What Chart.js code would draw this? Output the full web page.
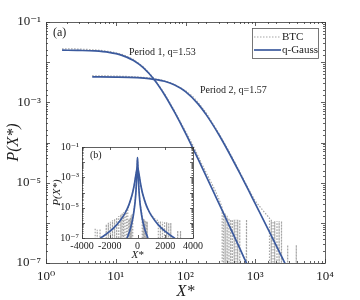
<!DOCTYPE html>
<html>
<head>
<meta charset="utf-8">
<script src="https://cdn.jsdelivr.net/npm/chart.js@4.4.0/dist/chart.umd.min.js"></script>
<style>
  html, body { margin: 0; padding: 0; background: #fff; }
  #wrap { position: relative; width: 360px; height: 300px; }
  #mainChart { position: absolute; left: 0; top: 0; }
  #insetChart { position: absolute; left: 48px; top: 138px; }
</style>
</head>
<body>
<div id="wrap">
  <canvas id="mainChart" width="360" height="300"></canvas>
  <canvas id="insetChart" width="160" height="125"></canvas>
</div>
<script>
// empty histogram bin (falls below the axis)
const EMPTY = 1e-30;

// main panel (a): log-log, |X*| vs P(X*)
const mainQ1X = [1.7, 3, 5, 8, 12, 18, 25, 35, 50, 70, 100, 150, 200, 300, 400, 500, 600, 750];
const mainQ1Y = [0.0199, 0.0196, 0.0190, 0.0175, 0.0150, 0.0110, 0.0072, 0.00381, 0.00155, 5.6e-4, 1.71e-4, 4.0e-5, 1.4e-5, 3.1e-6, 1.05e-6, 4.6e-7, 2.3e-7, 9.9e-8];
const mainQ2X = [4.6, 10, 20, 30, 50, 70, 100, 150, 200, 300, 400, 600, 800, 1000, 1500, 2000, 2700];
const mainQ2Y = [4.29e-3, 4.25e-3, 4.12e-3, 3.91e-3, 3.34e-3, 2.70e-3, 1.85e-3, 9.3e-4, 4.8e-4, 1.58e-4, 6.5e-5, 1.72e-5, 6.5e-6, 3.0e-6, 7.4e-7, 2.7e-7, 9.4e-8];

const mainBtc1X = [1.7, 2.5, 4, 6, 9, 13, 18, 25, 35, 50, 70, 100, 130, 170, 210, 250, 290, 320,
  335, 340, 350, 358, 370, 378, 395, 405, 420, 430, 445, 455, 470, 480, 500, 510, 530, 540, 560, 570, 600, 610, 750, 760];
const mainBtc1Y = [0.0215, 0.0214, 0.0207, 0.0197, 0.0179, 0.0152, 0.0116, 0.0076, 0.0040, 0.00165, 6.0e-4, 1.9e-4, 8.0e-5, 3.0e-5, 1.45e-5, 8.0e-6, 4.6e-6, 3.0e-6,
  2.4e-6, EMPTY, 2.0e-6, EMPTY, 1.7e-6, EMPTY, 1.5e-6, EMPTY, 1.3e-6, EMPTY, 1.2e-6, EMPTY, 1.2e-6, EMPTY, 1.2e-6, EMPTY, 1.2e-6, EMPTY, 1.2e-6, EMPTY, 1.2e-6, EMPTY, 1.2e-6, EMPTY];
const mainBtc2X = [4.6, 7, 10, 15, 20, 30, 45, 60, 80, 100, 130, 160, 200, 250, 300, 400, 500, 600, 700, 800, 900, 1000, 1150, 1300, 1450, 1600,
  1620, 1700, 1720, 1800, 1820, 1900, 1930, 2050, 2080, 2200, 2230, 2380, 2410, 2920, 2950, 3880, 3920];
const mainBtc2Y = [4.6e-3, 4.55e-3, 4.5e-3, 4.4e-3, 4.3e-3, 4.05e-3, 3.6e-3, 3.1e-3, 2.45e-3, 1.95e-3, 1.35e-3, 8.8e-4, 5.3e-4, 2.85e-4, 1.7e-4, 7.0e-5, 3.4e-5, 1.85e-5, 1.1e-5, 7.0e-6, 4.8e-6, 3.5e-6, 2.6e-6, 2.0e-6, 1.6e-6, 1.3e-6,
  EMPTY, 1.2e-6, EMPTY, 1.1e-6, EMPTY, 1.1e-6, EMPTY, 1.1e-6, EMPTY, 1.1e-6, EMPTY, 1.1e-6, EMPTY, 2.8e-7, EMPTY, 2.8e-7, EMPTY];

// inset panel (b): linear X*, log P
const insetQ1X = [-750, -600, -500, -400, -300, -200, -150, -100, -50, -25, 0, 25, 50, 100, 150, 200, 300, 400, 500, 600, 750];
const insetQ1Y = [9.9e-8, 2.3e-7, 4.6e-7, 1.05e-6, 3.1e-6, 1.4e-5, 4.0e-5, 1.71e-4, 1.55e-3, 7.2e-3, 0.02, 7.2e-3, 1.55e-3, 1.71e-4, 4.0e-5, 1.4e-5, 3.1e-6, 1.05e-6, 4.6e-7, 2.3e-7, 9.9e-8];
const insetQ2X = [-2700, -2000, -1500, -1000, -800, -600, -400, -300, -200, -100, -50, 0, 50, 100, 200, 300, 400, 600, 800, 1000, 1500, 2000, 2700];
const insetQ2Y = [9.4e-8, 2.7e-7, 7.4e-7, 3.0e-6, 6.5e-6, 1.72e-5, 6.5e-5, 1.58e-4, 4.8e-4, 1.85e-3, 3.34e-3, 4.3e-3, 3.34e-3, 1.85e-3, 4.8e-4, 1.58e-4, 6.5e-5, 1.72e-5, 6.5e-6, 3.0e-6, 7.4e-7, 2.7e-7, 9.4e-8];

const insetBtc1X = [-650, -630, -580, -560, -520, -500, -460, -440, -400, -380, -340, -300, -250, -200, -150, -100, -50, 0, 50, 100, 150, 200, 250, 300,
  340, 360, 400, 420, 470, 490, 540, 560, 610, 630, 700, 720];
const insetBtc1Y = [1.5e-6, EMPTY, 1.8e-6, EMPTY, 2.2e-6, EMPTY, 3e-6, EMPTY, 3.5e-6, EMPTY, 3e-6, 4e-6, 8e-6, 1.8e-5, 4.5e-5, 1.9e-4, 1.6e-3, 0.021, 1.6e-3, 1.9e-4, 4.5e-5, 1.6e-5, 8e-6, 4.5e-6,
  2.4e-6, EMPTY, 2e-6, EMPTY, 1.7e-6, EMPTY, 1.5e-6, EMPTY, 1.3e-6, EMPTY, 1.2e-6, EMPTY];
const insetBtc2X = [-3050, -3000, -2900, -2850, -2700, -2650, -2250, -2200, -2100, -2050, -1950, -1900, -1800, -1750, -1650, -1600, -1500, -1450, -1350, -1300, -1200, -1150, -1100, -1050, -1000, -950,
  -900, -850, -800, -750, -700, -600, -500, -400, -300, -200, -100, 0, 100, 200, 300, 400, 500, 600, 700, 800, 900, 1000, 1100, 1200, 1300, 1400, 1500,
  1550, 1650, 1700, 1800, 1850, 1950, 2000, 2100, 2150, 2250, 2300, 2400, 2450, 2900, 2950, 3100, 3150];
const insetBtc2Y = [4e-7, EMPTY, 3.5e-7, EMPTY, 4e-7, EMPTY, 8e-7, EMPTY, 1e-6, EMPTY, 1.2e-6, EMPTY, 1.5e-6, EMPTY, 1.8e-6, EMPTY, 2.2e-6, EMPTY, 2.8e-6, EMPTY, 3.5e-6, EMPTY, 4.5e-6, EMPTY, 5e-6, EMPTY,
  5e-6, 6e-6, 5e-6, EMPTY, 8e-6, 1.5e-5, 3e-5, 6.5e-5, 1.6e-4, 4.8e-4, 1.9e-3, 4.5e-3, 1.9e-3, 4.8e-4, 1.6e-4, 6.5e-5, 3e-5, 1.6e-5, 9e-6, 6e-6, 4.5e-6, 3.4e-6, 2.6e-6, 2e-6, 1.7e-6, 1.5e-6, 1.4e-6,
  EMPTY, 1.3e-6, EMPTY, 1.2e-6, EMPTY, 1.2e-6, EMPTY, 1.1e-6, EMPTY, 1e-6, EMPTY, 1e-6, EMPTY, 3e-7, EMPTY, 3e-7, EMPTY];

// tick labels
const mainXLabelExps = [0, 1, 2, 3, 4];
const mainYLabelExps = [-1, -3, -5, -7];
const insetYLabelExps = [-1, -3, -5, -7];
const insetXTickValues = [-4000, -2000, 0, 2000, 4000];
const insetXTickLabels = ['-4000', '-2000', '0', '2000', '4000'];

const SERIF = "'Liberation Serif', 'DejaVu Serif', serif";
const BLUE = '#3b5a9e';
const GREY = '#a6a6a6';
const INK = '#1a1a1a';

const SUP = { '-': '⁻', '0': '⁰', '1': '¹', '2': '²', '3': '³', '4': '⁴', '5': '⁵', '6': '⁶', '7': '⁷', '8': '⁸', '9': '⁹' };

function isDecade(v) {
    const l = Math.log10(v);
    return Math.abs(l - Math.round(l)) < 1e-6;
}

function pow10Label(v, exps) {
    if (!isDecade(v)) return '';
    const e = Math.round(Math.log10(v));
    if (!exps.includes(e)) return '';
    return '10' + String(e).split('').map(c => SUP[c]).join('');
}

function pts(xs, ys) {
    return xs.map((x, i) => ({ x: x, y: ys[i] }));
}

function fitSet(label, xs, ys) {
    return { label: label, data: pts(xs, ys), borderColor: BLUE, borderWidth: 1.7, cubicInterpolationMode: 'monotone', pointRadius: 0 };
}

function btcSet(label, xs, ys) {
    return { label: label, data: pts(xs, ys), borderColor: GREY, borderWidth: 1.2, borderDash: [1.5, 1.5], pointRadius: 0 };
}

// box around the axes with inward ticks on all four sides
const framePlugin = {
    id: 'frame',
    beforeDatasetsDraw(chart, args, opts) {
        if (!opts.fill) return;
        const a = chart.chartArea;
        chart.ctx.save();
        chart.ctx.fillStyle = opts.fill;
        chart.ctx.fillRect(a.left, a.top, a.right - a.left, a.bottom - a.top);
        chart.ctx.restore();
    },
    afterDatasetsDraw(chart, args, opts) {
        const { ctx, chartArea: a, scales } = chart;
        ctx.save();
        ctx.strokeStyle = '#3a3a3a';
        ctx.lineWidth = 0.8;
        ctx.beginPath();
        scales.x.ticks.forEach(t => {
            const px = Math.round(scales.x.getPixelForValue(t.value)) + 0.5;
            const len = (scales.x.type !== 'logarithmic' || isDecade(t.value)) ? opts.major : opts.minor;
            ctx.moveTo(px, a.bottom); ctx.lineTo(px, a.bottom - len);
            ctx.moveTo(px, a.top); ctx.lineTo(px, a.top + len);
        });
        scales.y.ticks.forEach(t => {
            const py = Math.round(scales.y.getPixelForValue(t.value)) + 0.5;
            const len = (scales.y.type !== 'logarithmic' || isDecade(t.value)) ? opts.major : opts.minor;
            ctx.moveTo(a.left, py); ctx.lineTo(a.left + len, py);
            ctx.moveTo(a.right, py); ctx.lineTo(a.right - len, py);
        });
        ctx.stroke();
        ctx.strokeRect(Math.round(a.left) + 0.5, Math.round(a.top) + 0.5, Math.round(a.right - a.left), Math.round(a.bottom - a.top));
        ctx.restore();
    }
};

// free text and the boxed legend
const notesPlugin = {
    id: 'notes',
    afterDraw(chart, args, opts) {
        const { ctx, chartArea: a } = chart;
        ctx.save();
        ctx.fillStyle = INK;
        ctx.textBaseline = 'middle';
        ctx.textAlign = 'left';
        (opts.texts || []).forEach(t => {
            ctx.font = t.font;
            ctx.fillText(t.text, a.left + t.dx, a.top + t.dy);
        });
        const lg = opts.legend;
        if (lg) {
            ctx.fillStyle = '#fff';
            ctx.fillRect(lg.x, lg.y, lg.w, lg.h);
            ctx.strokeStyle = '#555';
            ctx.lineWidth = 0.8;
            ctx.strokeRect(lg.x + 0.5, lg.y + 0.5, lg.w, lg.h);
            lg.items.forEach((idx, k) => {
                const ds = chart.data.datasets[idx];
                const y = lg.y + lg.first + k * lg.step;
                ctx.beginPath();
                ctx.setLineDash(ds.borderDash || []);
                ctx.strokeStyle = ds.borderColor;
                ctx.lineWidth = ds.borderWidth;
                ctx.moveTo(lg.x + 2, y);
                ctx.lineTo(lg.x + 29, y);
                ctx.stroke();
                ctx.setLineDash([]);
                ctx.fillStyle = INK;
                ctx.font = lg.font;
                ctx.fillText(ds.label, lg.x + 30, y);
            });
        }
        ctx.restore();
    }
};

Chart.register(framePlugin, notesPlugin);

new Chart(document.getElementById('mainChart'), {
    type: 'line',
    data: {
        datasets: [
            fitSet('q-Gauss', mainQ1X, mainQ1Y),
            fitSet('q-Gauss', mainQ2X, mainQ2Y),
            btcSet('BTC', mainBtc1X, mainBtc1Y),
            btcSet('BTC', mainBtc2X, mainBtc2Y)
        ]
    },
    options: {
        responsive: false,
        animation: false,
        layout: { padding: { top: 22, right: 35, left: 0, bottom: 0 } },
        plugins: {
            legend: { display: false },
            tooltip: { enabled: false },
            frame: { major: 4, minor: 2 },
            notes: {
                texts: [
                    { text: '(a)', dx: 7, dy: 11, font: `12px ${SERIF}` },
                    { text: 'Period 1, q=1.53', dx: 83, dy: 30, font: `10px ${SERIF}` },
                    { text: 'Period 2, q=1.57', dx: 154, dy: 68, font: `10px ${SERIF}` }
                ],
                legend: { x: 252, y: 28, w: 66, h: 30, first: 9, step: 13, items: [2, 0], font: `11px ${SERIF}` }
            }
        },
        scales: {
            x: {
                type: 'logarithmic',
                min: 1,
                max: 1e4,
                grid: { display: false, drawTicks: false },
                border: { display: false },
                ticks: {
                    autoSkip: false,
                    maxRotation: 0,
                    padding: 6,
                    color: INK,
                    font: { family: SERIF, size: 13 },
                    callback: v => pow10Label(v, mainXLabelExps)
                },
                title: { display: true, text: 'X*', color: INK, padding: 0, font: { family: SERIF, size: 16, style: 'italic', lineHeight: 1 } },
                afterFit: s => { s.height = 37; }
            },
            y: {
                type: 'logarithmic',
                min: 1e-7,
                max: 1e-1,
                grid: { display: false, drawTicks: false },
                border: { display: false },
                ticks: {
                    autoSkip: false,
                    padding: 5,
                    color: INK,
                    font: { family: SERIF, size: 13 },
                    callback: v => pow10Label(v, mainYLabelExps)
                },
                title: { display: true, text: 'P(X*)', color: INK, padding: { top: 4, bottom: 0 }, font: { family: SERIF, size: 16, style: 'italic' } },
                afterFit: s => { s.width = 46; }
            }
        }
    }
});

new Chart(document.getElementById('insetChart'), {
    type: 'line',
    data: {
        datasets: [
            fitSet('q-Gauss', insetQ1X, insetQ1Y),
            fitSet('q-Gauss', insetQ2X, insetQ2Y),
            btcSet('BTC', insetBtc1X, insetBtc1Y),
            btcSet('BTC', insetBtc2X, insetBtc2Y)
        ]
    },
    options: {
        responsive: false,
        animation: false,
        layout: { padding: { top: 8, right: 15, left: 0, bottom: 0 } },
        plugins: {
            legend: { display: false },
            tooltip: { enabled: false },
            frame: { major: 3, minor: 1.5, fill: '#fff' },
            notes: {
                texts: [{ text: '(b)', dx: 8, dy: 8, font: `10px ${SERIF}` }]
            }
        },
        scales: {
            x: {
                type: 'linear',
                min: -4000,
                max: 4000,
                afterBuildTicks: s => { s.ticks = insetXTickValues.map(v => ({ value: v })); },
                grid: { display: false, drawTicks: false },
                border: { display: false },
                ticks: {
                    autoSkip: false,
                    maxRotation: 0,
                    padding: 2,
                    color: INK,
                    font: { family: SERIF, size: 10 },
                    callback: (v, i) => insetXTickLabels[i]
                },
                title: { display: true, text: 'X*', color: INK, padding: { top: 0, bottom: 2 }, font: { family: SERIF, size: 11, style: 'italic', lineHeight: 1 } },
                afterFit: s => { s.height = 25; }
            },
            y: {
                type: 'logarithmic',
                min: 1e-7,
                max: 1e-1,
                grid: { display: false, drawTicks: false },
                border: { display: false },
                ticks: {
                    autoSkip: false,
                    padding: 3,
                    color: INK,
                    font: { family: SERIF, size: 10 },
                    callback: v => pow10Label(v, insetYLabelExps)
                },
                title: { display: true, text: 'P(X*)', color: INK, padding: { top: 3, bottom: 0 }, font: { family: SERIF, size: 11, style: 'italic' } },
                afterFit: s => { s.width = 34; }
            }
        }
    }
});
</script>
</body>
</html>
